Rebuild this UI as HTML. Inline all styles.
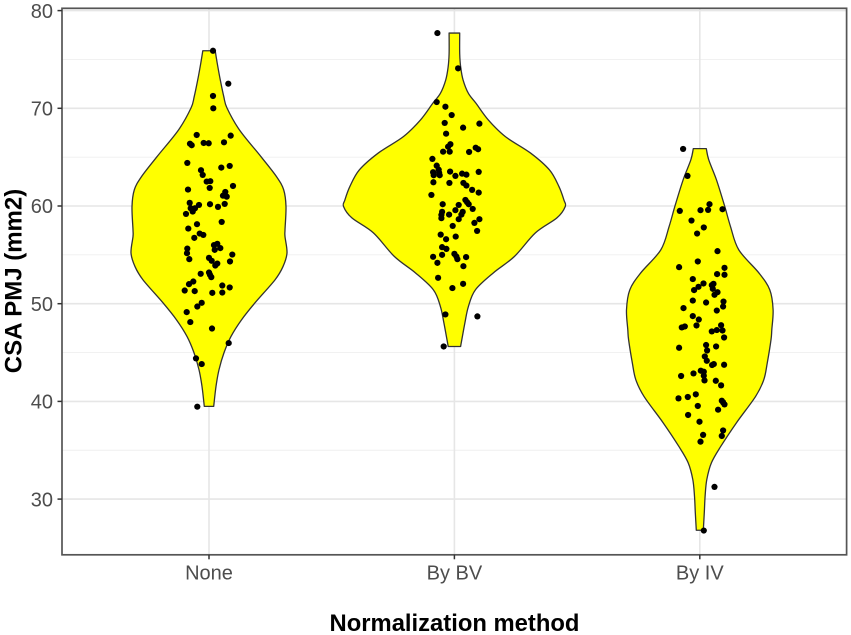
<!DOCTYPE html>
<html lang="en">
<head>
<meta charset="utf-8">
<title>CSA PMJ by normalization method</title>
<style>
html,body{margin:0;padding:0;background:#fff;width:851px;height:635px;overflow:hidden}
svg{display:block;font-family:"Liberation Sans",sans-serif}
</style>
</head>
<body>
<svg id="chart" xmlns="http://www.w3.org/2000/svg" width="851" height="635" viewBox="0 0 851 635">
  <rect x="0" y="0" width="851" height="635" fill="#fff"/>
  <g id="grid"></g>
  <g id="violins"></g>
  <g id="points"></g>
  <rect id="panel" fill="none" stroke="#555" stroke-width="1.7"/>
  <g id="y-axis"></g>
  <g id="x-axis"></g>
  <text x="454.5" y="631" text-anchor="middle" font-size="23.8" font-weight="bold" fill="#000">Normalization method</text>
  <text transform="translate(21.5,281) rotate(-90)" text-anchor="middle" font-size="24" font-weight="bold" fill="#000">CSA PMJ (mm2)</text>
</svg>
<script>
const categories = ["None", "By BV", "By IV"];
const yTicks = [30, 40, 50, 60, 70, 80];
const yMinorTicks = [35, 45, 55, 65, 75];

const noneLevels = [75.89,74.63,72.89,71.19,70.03,67.78,65.05,63.01,61.65,59.94,57.56,56.87,55.2,53.8,52.44,50.09,48.35,46.65,44.98,43.24,41.53,39.49];
const noneDensity = [0.062,0.082,0.113,0.148,0.18,0.305,0.52,0.675,0.747,0.77,0.76,0.76,0.78,0.74,0.66,0.46,0.325,0.22,0.15,0.10,0.07,0.047];

const byBvLevels = [77.7,75.6,74.2,72.89,71.53,70.5,68.8,67.1,65.43,63.7,62.0,60.62,59.94,58.78,57.25,54.83,53.16,51.42,49.71,48.04,45.62];
const byBvDensity = [0.053,0.053,0.063,0.087,0.14,0.217,0.34,0.51,0.76,0.95,1.045,1.095,1.108,1.025,0.81,0.60,0.39,0.21,0.14,0.105,0.062];

const byIvLevels = [65.87,64.71,62.67,59.94,57.9,55.51,53.16,51.42,49.38,47.33,46.31,43.96,42.22,40.51,37.82,35.4,33.73,32.0,30.29,28.62,26.81];
const byIvDensity = [0.065,0.09,0.167,0.25,0.307,0.39,0.59,0.70,0.733,0.72,0.712,0.675,0.64,0.558,0.367,0.21,0.117,0.07,0.053,0.045,0.035];

const noneValues = [75.89,72.52,71.26,70,67.27,67.2,66.38,66.22,66.45,66.42,66.52,64.41,63.66,63.18,63.93,64.1,62.5,62.54,61.85,62.05,61.68,61.44,61.06,60.96,60.32,60.11,60.18,60.21,59.91,59.77,59.77,59.43,59.19,58.14,58.37,57.69,57.18,57.04,56.74,56.13,56,55.69,55.51,55.64,55.17,55.03,54.56,54.69,54.39,54.32,54.11,53.91,53.06,53.19,52.96,52.72,52.27,52,51.86,51.66,51.35,51.29,51.11,51.14,50.09,49.71,49.14,48.12,47.46,45.97,44.4,43.82,39.46];
const noneJitter = [4,19.3,4,4.3,-12.3,21.7,-19,-17.3,-5.3,-0.3,15,-21.7,-8,-6.3,12.3,20.7,-2.3,1.3,0.7,24,-21,16.3,14,17.7,-19.3,-10,1,15.7,9,-18.3,-14,-16.3,-23,-12,12.7,-20.7,-9.3,-5.7,-14.7,8.3,5,11.3,5.7,-21.7,-22,23.3,-19.7,0,2.7,21,8.3,6.3,-8.3,0,1,2.3,-15.7,-20,13.3,20.7,-24.3,-14.3,3.3,13.3,-7.3,-11.7,-22.3,-18.7,3,19.7,-13,-7.3,-11.7];

const byBvValues = [77.7,74.09,70.64,70.16,69.31,68.5,68.02,68.43,67.4,66.32,66.07,65.56,65.56,65.53,65.97,65.81,64.82,64.13,63.72,63.46,63.41,63.15,63.15,63.52,63.08,63.31,63.21,63.49,62.43,62.36,62.36,62.09,61.65,61.37,61.13,60.62,60.18,60.39,60.11,60.18,59.57,59.7,59.4,59.4,59.09,59.12,59.12,58.75,58.65,58.65,58.27,57.96,57.45,57.07,56.87,56.6,55.79,55.61,55.1,55,54.83,54.56,54.8,54.77,54.18,53.84,52.65,52.03,51.6,48.9,48.7,45.62];
const byBvJitter = [-17,3.7,-17.7,-9,-2.7,-9.7,8.7,25,-8.3,-4,-6.3,-11.3,-4.7,14.7,21.3,23.7,-22,-17.7,-15.7,-21.3,-15.3,-20.7,-14.7,-4.3,1,7.7,12,24.3,-21,-5,9,12,17.7,24.3,-23,11,-11.7,12.7,4.3,14.3,1,18.3,8.3,-12.3,-13,-5.3,7,-13,4.3,25,20,-1.7,22.7,-13.7,1.3,-8.3,-12.3,-8,0,-12.3,2,3,-21.3,11.7,-17,9,-16.3,8.7,-2,-9,23,-10.7];

const byIvValues = [65.84,63.08,60.18,59.5,59.57,59.6,59.67,58.51,57.8,57.18,55.38,54.32,53.74,53.67,53.03,52.96,52.52,52.07,51.73,51.39,52.03,51.9,51.52,51.18,50.91,50.32,50.12,50.22,49.71,49.55,49.3,48.73,48.38,47.8,47.77,47.67,47.57,47.3,47.16,47.26,46.54,45.49,45.77,45.21,45.62,44.6,44.16,43.72,43.82,43.75,43.14,43.04,42.86,42.6,42.63,42.15,42.11,41.64,40.72,40.45,40.31,40.07,39.9,39.69,39.53,39.15,38.61,37.92,37.03,36.57,36.46,35.88,31.25,26.78];
const byIvJitter = [-16.7,-12.3,9.7,-20,0.7,8.3,22.7,-8.3,4,-2.7,17.7,-2,-20.7,24.7,17.3,24.7,-7,3.7,-1.3,-5.7,13.7,12,13,17.7,14.7,-7,6.3,23.7,23.3,-16.3,17,-7,-1,21.3,-3.3,-15,-18,17,12,22.7,24.3,-20.7,6.3,7.3,16.3,5,7,12.3,14,24.3,1,4,-6.3,-18.7,4,4.7,16,21.3,-4,-12,-21.3,22,23.3,24.7,-2,18.3,-11.7,-0.3,23.3,3.3,22,0.7,14.7,4];

const allLevels = [noneLevels, byBvLevels, byIvLevels];
const allDensity = [noneDensity, byBvDensity, byIvDensity];
const allValues = [noneValues, byBvValues, byIvValues];
const allJitter = [noneJitter, byBvJitter, byIvJitter];

const NS = "http://www.w3.org/2000/svg";
const panelBox = {left: 62, right: 846.6, top: 8.3, bottom: 554.8};
function yScale(v) { return 10.6 + (80 - v) * 9.77; }
function xScale(c) { return 209 + c * 245.4; }
function densityScale(d) { return d * 100; }
function jitterScale(j) { return j / 245.4; }

function make(tag, attrs, parent) {
  const el = document.createElementNS(NS, tag);
  for (const k in attrs) el.setAttribute(k, attrs[k]);
  parent.appendChild(el);
  return el;
}

function smooth(pts) {
  let d = "";
  for (let i = 0; i < pts.length - 1; i++) {
    const p0 = pts[Math.max(i - 1, 0)], p1 = pts[i], p2 = pts[i + 1], p3 = pts[Math.min(i + 2, pts.length - 1)];
    const c1x = p1[0] + (p2[0] - p0[0]) / 6, c1y = p1[1] + (p2[1] - p0[1]) / 6;
    const c2x = p2[0] - (p3[0] - p1[0]) / 6, c2y = p2[1] - (p3[1] - p1[1]) / 6;
    d += " C" + c1x.toFixed(2) + " " + c1y.toFixed(2) + " " + c2x.toFixed(2) + " " + c2y.toFixed(2) + " " + p2[0].toFixed(2) + " " + p2[1].toFixed(2);
  }
  return d;
}

const gridG = document.getElementById("grid");
const violinG = document.getElementById("violins");
const pointG = document.getElementById("points");
const yG = document.getElementById("y-axis");
const xG = document.getElementById("x-axis");

const panelRect = document.getElementById("panel");
panelRect.setAttribute("x", panelBox.left);
panelRect.setAttribute("y", panelBox.top);
panelRect.setAttribute("width", panelBox.right - panelBox.left);
panelRect.setAttribute("height", panelBox.bottom - panelBox.top);

yMinorTicks.forEach(function (v) {
  const line = make("line", {x1: panelBox.left, x2: panelBox.right, y1: yScale(v), y2: yScale(v), stroke: "#efefef", "stroke-width": 0.9}, gridG);
  
  
});
yTicks.forEach(function (v) {
  const line = make("line", {x1: panelBox.left, x2: panelBox.right, y1: yScale(v), y2: yScale(v), stroke: "#e6e6e6", "stroke-width": 1.6}, gridG);
  
  

  const tick = make("line", {x1: panelBox.left - 4.5, x2: panelBox.left, y1: yScale(v), y2: yScale(v), stroke: "#333", "stroke-width": 1.5}, yG);
  
  

  const label = make("text", {x: 53, y: yScale(v) + 7.2, "text-anchor": "end", "font-size": 20, fill: "#4d4d4d"}, yG);
  label.textContent = v;
  
  
});

categories.forEach(function (name, c) {
  const cx = xScale(c);
  const gl = make("line", {x1: cx, x2: cx, y1: panelBox.top, y2: panelBox.bottom, stroke: "#e6e6e6", "stroke-width": 1.6}, gridG);
  
  

  const tick = make("line", {x1: cx, x2: cx, y1: panelBox.bottom, y2: panelBox.bottom + 4.5, stroke: "#333", "stroke-width": 1.5}, xG);
  
  

  const label = make("text", {x: cx, y: 579.3, "text-anchor": "middle", "font-size": 20, fill: "#4d4d4d"}, xG);
  label.textContent = name;
  
  

  const levels = allLevels[c], dens = allDensity[c];
  const right = levels.map(function (v, i) { return [cx + densityScale(dens[i]), yScale(v)]; });
  const left = levels.map(function (v, i) { return [cx - densityScale(dens[i]), yScale(v)]; }).reverse();
  const d = "M" + left[left.length - 1][0].toFixed(2) + " " + left[left.length - 1][1].toFixed(2) +
    " L" + right[0][0].toFixed(2) + " " + right[0][1].toFixed(2) + smooth(right) +
    " L" + left[0][0].toFixed(2) + " " + left[0][1].toFixed(2) + smooth(left) + " Z";
  const violin = make("path", {d: d, fill: "#ffff00", stroke: "#333", "stroke-width": 1.3, "stroke-linejoin": "round"}, violinG);
  
  

  allValues[c].forEach(function (v, i) {
    const pt = make("circle", {cx: xScale(c + jitterScale(allJitter[c][i])), cy: yScale(v), r: 3.1, fill: "#000"}, pointG);
    
    
  });
});
</script>
</body>
</html>
